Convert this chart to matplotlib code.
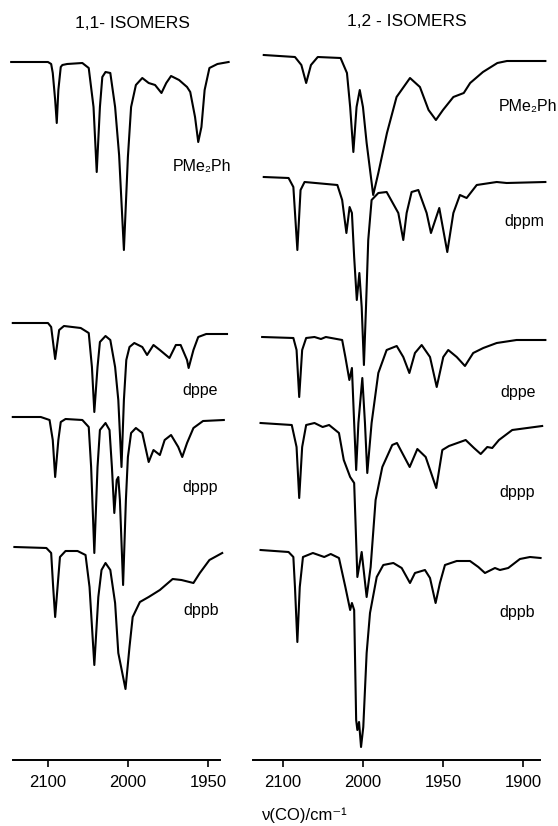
import numpy as np
import matplotlib.pyplot as plt

plt.rcParams['font.family'] = ['Liberation Sans', 'DejaVu Sans']

# ---- 1,1-isomers (left panel) : wavenumber (cm-1) and trace signal (0 = baseline, dips < 0)
l_pme2ph_wn = [2146, 2100, 2096, 2094, 2091, 2089, 2087, 2084, 2082, 2076, 2057, 2049, 2043, 2039,
               2035, 2032, 2028, 2022, 2016, 2011, 2005, 2000, 1998, 1995, 1991, 1987, 1983, 1979,
               1976, 1973, 1968, 1963, 1961, 1958, 1956, 1954, 1952, 1949, 1944, 1937]
l_pme2ph_s = [0, 0, -2, -11, -38, -61, -28, -5, -3, -2, -1, -6, -45, -110,
              -45, -15, -10, -11, -45, -93, -188, -95, -45, -23, -16, -21, -23, -31,
              -21, -14, -18, -25, -30, -55, -80, -65, -28, -6, -2, 0]

l_dppe_wn = [2144, 2100, 2096, 2091, 2086, 2080, 2059, 2049, 2045, 2042, 2038, 2035, 2028, 2022,
             2016, 2012, 2008, 2005, 2002, 1999, 1996, 1991, 1988, 1984, 1980, 1974, 1970, 1967,
             1963, 1962, 1959, 1956, 1951, 1938]
l_dppe_s = [0, 0, -4, -36, -7, -3, -5, -10, -44, -89, -44, -19, -13, -17,
            -44, -77, -144, -77, -37, -24, -20, -24, -32, -22, -27, -35, -22, -22,
            -37, -45, -27, -14, -11, -11]

l_dppp_wn = [2144, 2109, 2098, 2094, 2091, 2087, 2084, 2078, 2057, 2049, 2046, 2042, 2038, 2035,
             2028, 2023, 2020, 2017, 2014, 2012, 2010, 2006, 2002.5, 2000, 1998, 1995, 1991, 1987,
             1984, 1980, 1977, 1973, 1968.5, 1966, 1963, 1959, 1953, 1940]
l_dppp_s = [0, 0, -3, -23, -60, -23, -5, -2, -3, -10, -50, -136, -50, -13,
            -6, -13, -50, -96, -63, -60, -83, -168, -83, -40, -16, -11, -16, -45,
            -33, -38, -23, -18, -30, -40, -26, -11, -4, -3]

l_dppb_wn = [2142, 2102, 2096, 2093.5, 2091, 2088, 2085, 2078, 2063, 2053, 2048, 2042, 2037, 2033,
             2028, 2022, 2016, 2012, 2003, 1999, 1997, 1992.5, 1987, 1980, 1972, 1966.5, 1959, 1955,
             1949, 1941]
l_dppb_s = [0, -1, -6, -40, -70, -40, -10, -4, -4, -8, -40, -118, -50, -23,
            -16, -23, -56, -106, -142, -100, -70, -55, -50, -43, -32, -33, -36, -26,
            -13, -6]

# ---- 1,2-isomers (right panel)
r_pme2ph_wn = [2124, 2085, 2077, 2071, 2065, 2056.5, 2028, 2020, 2016, 2012, 2008, 2004, 2000, 1997.7,
               1993.6, 1990.4, 1985, 1979, 1970.6, 1964.4, 1959, 1954.4, 1950, 1943.5, 1937, 1933, 1925,
               1916, 1910, 1886]
r_pme2ph_s = [0, -2, -10, -28, -10, -2, -3, -18, -52, -97, -52, -35, -52, -88,
              -140, -118, -78, -42, -23, -32, -55, -65, -55, -42, -38, -28, -17,
              -8, -6, -6]

r_dppm_wn = [2124, 2093, 2087, 2082, 2078, 2073, 2032, 2026, 2020.7, 2016.7, 2013.8, 2011, 2007.7,
             2004.5, 2001.6, 1999.4, 1998.1, 1996.7, 1994.6, 1990.4, 1985.2, 1977.9, 1974.8, 1972.7,
             1969.6, 1965.4, 1960.2, 1957.5, 1952.3, 1947.3, 1943.5, 1939.4, 1935.2, 1928.9, 1916.4,
             1910.2, 1886]
r_dppm_s = [0, -1, -10, -73, -13, -5, -8, -23, -56, -30, -36, -80, -123,
            -96, -130, -188, -130, -63, -23, -16, -15, -36, -63, -36,
            -15, -13, -36, -56, -31, -75, -36, -18, -21, -8, -5,
            -6, -5]

r_dppe_wn = [2126, 2087, 2083, 2079.7, 2076, 2071, 2060.6, 2052.5, 2046.4, 2026, 2022, 2017, 2013.8,
             2011, 2008.5, 2005.7, 2000.8, 1998.75, 1997.3, 1994.6, 1990.4, 1985.2, 1978.9, 1974.8,
             1971, 1967.5, 1963.3, 1958.1, 1953.9, 1949.8, 1946.7, 1941.4, 1936.25, 1931.1, 1924.8,
             1916.4, 1904, 1886]
r_dppe_s = [0, -1, -13, -60, -13, -1, 0, -2, 0, -3, -20, -43, -31,
            -86, -133, -86, -41, -86, -136, -86, -36, -13, -9, -20,
            -36, -16, -8, -20, -50, -20, -13, -20, -29, -16, -11,
            -6, -3, -3]

r_dppp_wn = [2128, 2089, 2083, 2079.7, 2076, 2071, 2060.6, 2050.4, 2042.3, 2030, 2024, 2016, 2011,
             2009.4, 2007, 2001.6, 1997.7, 1995.2, 1992.1, 1987.9, 1981.7, 1978.75, 1970.8, 1966,
             1960.8, 1954.2, 1950.4, 1946.25, 1935.8, 1930.6, 1926.4, 1922.3, 1919.2, 1915, 1906.7, 1888]
r_dppp_s = [0, -2, -24, -75, -24, -2, 0, -4, -2, -10, -37, -54, -60,
            -97, -154, -129, -174, -144, -77, -44, -22, -20, -44, -26,
            -34, -65, -27, -23, -17, -25, -31, -24, -25, -17, -7, -3]

r_dppb_wn = [2128, 2093, 2087, 2085, 2082, 2079, 2075, 2062.6, 2048.4, 2040.3, 2030, 2022, 2016,
             2013.8, 2011, 2008.5, 2007, 2004.9, 2002.4, 1999.8, 1997.7, 1995.6, 1991.4, 1987.3, 1981,
             1975.8, 1970.6, 1967.5, 1961.25, 1958.1, 1954.6, 1951.9, 1948.75, 1941.4, 1933.1, 1927.9,
             1923.75, 1917.5, 1914.4, 1909.2, 1901.9, 1895.6, 1889]
r_dppb_s = [0, -2, -7, -37, -92, -37, -7, -3, -7, -4, -8, -37, -60,
            -53, -60, -170, -180, -172, -197, -177, -103, -63, -27, -15, -13,
            -18, -33, -23, -20, -28, -53, -33, -15, -11, -11, -17,
            -23, -18, -20, -18, -9, -7, -8]

l_ticks = [2100, 2000, 1950]
r_ticks = [2100, 2000, 1950, 1900]


# spectrometer scale: above 2000 cm-1 the chart is compressed by a factor 2
def fwd(w):
    w = np.asarray(w, dtype=float)
    return np.where(w > 2000, 2000 + (w - 2000) / 2, w)

def inv(u):
    u = np.asarray(u, dtype=float)
    return np.where(u > 2000, 2000 + 2 * (u - 2000), u)


W, H = 558, 826
fig = plt.figure(figsize=(W / 100, H / 100), dpi=100)

def px_axes(x0, x1, y0, y1):
    return fig.add_axes([x0 / W, 1 - y1 / H, (x1 - x0) / W, (y1 - y0) / H])

def px_text(x, y, s, size=11.5):
    fig.text(x / W, 1 - y / H, s, ha='center', va='center', fontsize=size)

def setup(ax, xlim, bounds, ticks):
    ax.set_xscale('function', functions=(fwd, inv))
    ax.set_xlim(*xlim)
    ax.set_ylim(760, 40)
    for side in ['left', 'right', 'top']:
        ax.spines[side].set_visible(False)
    ax.spines['bottom'].set_bounds(*bounds)
    ax.spines['bottom'].set_linewidth(1.4)
    ax.set_yticks([])
    ax.set_xticks(ticks)
    ax.set_xticklabels([str(t) for t in ticks])
    ax.minorticks_off()
    ax.tick_params(axis='x', direction='out', length=5, width=1.2, pad=6, labelsize=12)
    ax.patch.set_alpha(0)

def trace(ax, wn, s, base):
    ax.plot(wn, base - np.array(s), color='black', lw=1.5, clip_on=False)


# left panel
ax1 = px_axes(8, 235, 40, 760)
setup(ax1, (2150, 1933), (2143.8, 1942.5), l_ticks)
trace(ax1, l_pme2ph_wn, l_pme2ph_s, 62)
trace(ax1, l_dppe_wn, l_dppe_s, 323)
trace(ax1, l_dppp_wn, l_dppp_s, 417)
trace(ax1, l_dppb_wn, l_dppb_s, 547)

# right panel
ax2 = px_axes(250, 550, 40, 760)
setup(ax2, (2141.2, 1883.1), (2137.5, 1889.4), r_ticks)
trace(ax2, r_pme2ph_wn, r_pme2ph_s, 55)
trace(ax2, r_dppm_wn, r_dppm_s, 177)
trace(ax2, r_dppe_wn, r_dppe_s, 337)
trace(ax2, r_dppp_wn, r_dppp_s, 423)
trace(ax2, r_dppb_wn, r_dppb_s, 550)

# headings and trace labels
px_text(132, 23, '1,1- ISOMERS', 12.5)
px_text(407, 21, '1,2 - ISOMERS', 12.5)
px_text(202, 167, 'PMe₂Ph')
px_text(200, 390, 'dppe')
px_text(200, 488, 'dppp')
px_text(201, 611, 'dppb')
px_text(528, 107, 'PMe₂Ph')
px_text(524, 222, 'dppm')
px_text(518, 392, 'dppe')
px_text(517, 492, 'dppp')
px_text(517, 612, 'dppb')
px_text(305, 815, 'ν(CO)/cm⁻¹', 12)

fig.savefig('out.png', dpi=100)
